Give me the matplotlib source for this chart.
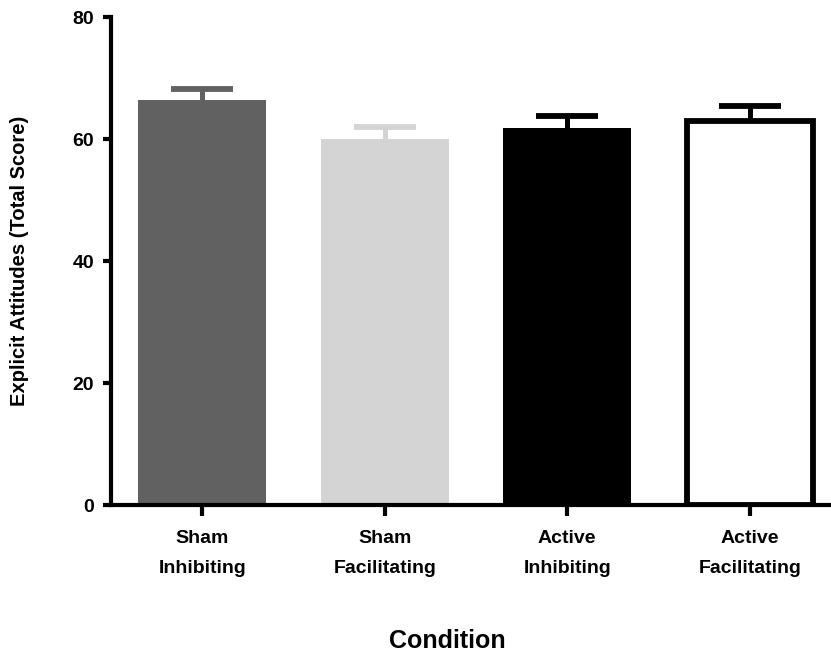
import matplotlib
matplotlib.use("Agg")
import matplotlib.pyplot as plt

categories = ["Sham\nInhibiting", "Sham\nFacilitating", "Active\nInhibiting", "Active\nFacilitating"]
means = [66.4, 60.0, 61.85, 62.9]
errors = [1.75, 2.0, 1.95, 2.5]
yticks = [0, 20, 40, 60, 80]

face_colors = ["#616161", "#d4d4d4", "#000000", "#ffffff"]
err_colors = ["#616161", "#d4d4d4", "#000000", "#000000"]

W, H = 831, 655
fig = plt.figure(figsize=(W / 100, H / 100), dpi=100)
ax = fig.add_axes([111 / W, (H - 505) / H, (W - 111) / W, (505 - 17) / H])

x = list(range(len(categories)))
for i in x:
    if face_colors[i] == "#ffffff":
        ax.bar(i, means[i], width=0.69, color="white", edgecolor="black", linewidth=4.2, zorder=2)
    else:
        ax.bar(i, means[i], width=0.7, color=face_colors[i], edgecolor="none", zorder=2)
    eb = ax.errorbar(i, means[i], yerr=[[0], [errors[i]]], fmt="none", ecolor=err_colors[i],
                     elinewidth=3.6, capsize=22, capthick=4.2, zorder=1)
    caps = eb.lines[1]
    if len(caps) > 1:
        caps[0].set_visible(False)

ax.set_xlim(-0.5, (W - 111) / 182.5 - 0.5)
ax.set_ylim(0, 80)
ax.set_yticks(yticks)
ax.set_yticklabels([str(v) for v in yticks])
ax.set_xticks(x)
ax.set_xticklabels(categories, linespacing=2.0)

for s in ["top", "right"]:
    ax.spines[s].set_visible(False)
for s in ["left", "bottom"]:
    ax.spines[s].set_linewidth(3)
ax.tick_params(axis="y", width=3, length=6, pad=6, labelsize=14)
ax.tick_params(axis="x", width=3, length=8, pad=10, labelsize=14)
for lab in ax.get_xticklabels() + ax.get_yticklabels():
    lab.set_fontfamily("Liberation Sans")
    lab.set_fontweight("bold")

fig.text(20 / W, 1 - 261 / H, "Explicit Attitudes (Total Score)", rotation=90,
         ha="center", va="center", fontsize=14.5, fontweight="bold", family="Liberation Sans")
fig.text(447 / W, 1 - 641 / H, "Condition", ha="center", va="center",
         fontsize=18, fontweight="bold", family="Liberation Sans")

fig.savefig("out.png", dpi=100)
